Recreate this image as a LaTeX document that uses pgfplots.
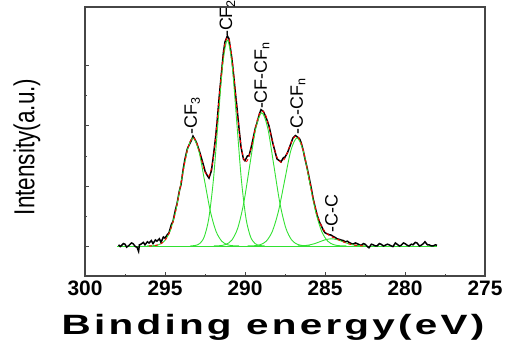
\documentclass[border=0pt]{standalone}
\usepackage{pgfplots}
\pgfplotsset{compat=1.18}
\usepackage{graphicx}
\usepackage{fontspec}
\setmainfont{Liberation Sans}
\definecolor{fitgreen}{RGB}{50,225,50}
\definecolor{frame}{RGB}{70,70,70}
\begin{document}
\begin{tikzpicture}
\useasboundingbox (-85bp,-64bp) rectangle (421bp,276bp);
\begin{axis}[
  scale only axis, width=400bp, height=269bp,
  x dir=reverse, xmin=275, xmax=300, ymin=-0.5, ymax=3.98,
  xtick={275,280,285,290,295,300}, minor x tick num=1,
  ytick={0,1,2,3}, minor y tick num=1, yticklabels={},
  tick align=inside, tick pos=left,
  major tick length=4bp, minor tick length=2.5bp,
  axis line style={frame, line width=1.1pt},
  every tick/.style={frame, line width=0.8pt},
  /pgf/number format/assume math mode=true,
  /pgf/number format/1000 sep={},
  xticklabel style={font=\fontsize{21}{21}\selectfont\bfseries, inner sep=1bp, yshift=-4bp},
  xlabel={\scalebox{1.45}[1]{\addfontfeatures{LetterSpace=8}Binding energy(eV)}},
  xlabel style={font=\fontsize{28}{28}\selectfont\bfseries, at={(axis description cs:0.47,-0.219)}, anchor=base},
  ylabel={\scalebox{0.78}[1]{Intensity(a.u.)}},
  ylabel style={font=\fontsize{29}{29}\selectfont, at={(axis description cs:-0.145,0.48)}, anchor=center},
  clip=false,
]
% baseline
\addplot[fitgreen, line width=0.9pt] coordinates {(298,0) (278,0)};
% experimental data
\addplot[black, line width=1.5pt] coordinates {
(297.9,0.02) (297.8,-0.01) (297.75,0.00) (297.6,0.04) (297.5,0.03) (297.4,-0.02) (297.25,0.01) (297.1,0.05)
(297.0,0.04) (296.85,-0.01) (296.75,-0.02) (296.65,-0.09) (296.6,0.02) (296.5,0.03) (296.35,0.06) (296.25,0.02)
(296.1,0.07) (296.0,0.05) (295.85,0.09) (295.75,0.04) (295.6,0.10) (295.5,0.08) (295.35,0.12) (295.25,0.06)
(295.1,0.15) (295.0,0.13) (294.85,0.19) (294.75,0.22) (294.6,0.36) (294.5,0.41) (294.35,0.60) (294.25,0.70)
(294.1,0.92) (294.0,1.02) (293.85,1.30) (293.75,1.45) (293.6,1.62) (293.5,1.68) (293.35,1.76) (293.25,1.83)
(293.1,1.76) (293.0,1.70) (292.85,1.58) (292.75,1.49) (292.6,1.35) (292.5,1.25) (292.35,1.17) (292.25,1.13)
(292.1,1.25) (292.0,1.45) (291.85,1.78) (291.75,2.05) (291.6,2.52) (291.5,2.80) (291.35,3.22) (291.25,3.40)
(291.1,3.50) (291.0,3.45) (290.85,3.18) (290.75,2.95) (290.6,2.55) (290.5,2.30) (290.35,1.90) (290.25,1.65)
(290.1,1.45) (290.0,1.42) (289.85,1.50) (289.75,1.50) (289.6,1.66) (289.5,1.78) (289.35,1.97) (289.25,2.05)
(289.1,2.20) (289.0,2.27) (288.85,2.24) (288.75,2.18) (288.6,2.08) (288.5,2.00) (288.35,1.82) (288.25,1.70)
(288.1,1.55) (288.0,1.45) (287.85,1.42) (287.75,1.40) (287.6,1.47) (287.5,1.48) (287.35,1.55) (287.25,1.62)
(287.1,1.73) (287.0,1.80) (286.85,1.84) (286.75,1.82) (286.6,1.79) (286.5,1.73) (286.35,1.58) (286.25,1.45)
(286.1,1.28) (286.0,1.15) (285.85,0.95) (285.75,0.80) (285.6,0.63) (285.5,0.52) (285.35,0.40) (285.25,0.35)
(285.1,0.26) (285.0,0.22) (284.85,0.20) (284.75,0.19) (284.6,0.18) (284.5,0.16) (284.35,0.14) (284.25,0.12)
(284.1,0.11) (284.0,0.10) (283.85,0.09) (283.75,0.07) (283.6,0.08) (283.5,0.06) (283.35,0.04) (283.25,0.03)
(283.1,0.05) (283.0,0.04) (282.85,0.02) (282.75,0.01) (282.6,0.04) (282.5,0.03) (282.35,-0.01) (282.25,-0.03)
(282.1,0.03) (282.0,0.02) (281.85,0.00) (281.75,0.00) (281.6,0.04) (281.5,0.03) (281.35,0.00) (281.25,0.01)
(281.1,0.03) (281.0,0.02) (280.85,0.00) (280.75,-0.01) (280.6,0.05) (280.5,0.03) (280.35,0.00) (280.25,0.01)
(280.1,0.05) (280.0,0.04) (279.85,0.01) (279.75,0.00) (279.6,0.03) (279.5,0.02) (279.35,0.06) (279.25,0.05)
(279.1,0.00) (279.0,0.01) (278.85,0.04) (278.75,0.07) (278.6,0.02) (278.5,0.02) (278.35,0.00) (278.25,0.00)
(278.1,0.02) (278.0,0.01)
};
% fitted components
\addplot[fitgreen, line width=0.9pt, smooth] coordinates {
(290.37,0.0005) (290.73,0.004) (291.09,0.020) (291.45,0.079) (291.81,0.244) (292.17,0.584) (292.53,1.092) (292.89,1.589)
(293.25,1.8) (293.61,1.589) (293.97,1.092) (294.33,0.584) (294.69,0.244) (295.05,0.079) (295.41,0.020) (295.77,0.004) (296.13,0.0005)};
\addplot[fitgreen, line width=0.9pt, smooth] coordinates {
(288.78,0.001) (289.07,0.008) (289.36,0.038) (289.65,0.151) (289.94,0.464) (290.23,1.114) (290.52,2.080) (290.81,3.027)
(291.1,3.43) (291.39,3.027) (291.68,2.080) (291.97,1.114) (292.26,0.464) (292.55,0.151) (292.84,0.038) (293.13,0.008) (293.42,0.001)};
\addplot[fitgreen, line width=0.9pt, smooth] coordinates {
(285.95,0.001) (286.325,0.005) (286.70,0.025) (287.075,0.097) (287.45,0.300) (287.825,0.721) (288.20,1.346) (288.575,1.959)
(288.95,2.22) (289.325,1.959) (289.70,1.346) (290.075,0.721) (290.45,0.300) (290.825,0.097) (291.20,0.025) (291.575,0.005) (291.95,0.001)};
\addplot[fitgreen, line width=0.9pt, smooth] coordinates {
(283.67,0.0005) (284.055,0.004) (284.44,0.020) (284.825,0.079) (285.21,0.244) (285.595,0.584) (285.98,1.092) (286.365,1.589)
(286.75,1.8) (287.135,1.589) (287.52,1.092) (287.905,0.584) (288.29,0.244) (288.675,0.079) (289.06,0.020) (289.445,0.004) (289.83,0.0005)};
\addplot[fitgreen, line width=0.9pt, smooth] coordinates {
(282.5,0.001) (282.85,0.005) (283.2,0.016) (283.55,0.039) (283.9,0.073) (284.25,0.106) (284.6,0.12) (284.95,0.106)
(285.3,0.073) (285.65,0.039) (286.0,0.016) (286.35,0.005) (286.7,0.001)};
% envelope
\addplot[red, line width=1.0pt, dashed, smooth] coordinates {
(296.0,0.001) (295.75,0.004) (295.5,0.014) (295.25,0.038) (295.0,0.094) (294.75,0.206) (294.5,0.399) (294.25,0.686)
(294.0,1.046) (293.75,1.414) (293.5,1.696) (293.25,1.804) (293.0,1.711) (292.75,1.474) (292.5,1.232) (292.25,1.166)
(292.0,1.429) (291.75,2.039) (291.5,2.805) (291.25,3.375) (291.0,3.446) (290.75,2.988) (290.5,2.272) (290.25,1.666)
(290.0,1.401) (289.75,1.486) (289.5,1.776) (289.25,2.079) (289.0,2.245) (288.75,2.205) (288.5,1.990) (288.25,1.706)
(288.0,1.477) (287.75,1.392) (287.5,1.463) (287.25,1.628) (287.0,1.784) (286.75,1.831) (286.5,1.722) (286.25,1.468)
(286.0,1.137) (285.75,0.806) (285.5,0.535) (285.25,0.348) (285.0,0.238) (284.75,0.179) (284.5,0.144) (284.25,0.115)
(284.0,0.086) (283.75,0.058) (283.5,0.035) (283.25,0.019) (283.0,0.009) (282.75,0.004) (282.5,0.001)};
% peak labels
\begin{scope}[every node/.style={rotate=90, anchor=west, inner sep=0.5bp, font=\fontsize{18}{18}\selectfont}]
\node at (axis cs:293.3,1.84) {-CF\textsubscript{3}};
\node at (axis cs:291.1,3.47) {-CF\textsubscript{2}};
\node at (axis cs:288.95,2.27) {-CF-CF\textsubscript{n}};
\node at (axis cs:286.7,1.85) {-C-CF\textsubscript{n}};
\node at (axis cs:284.6,0.22) {-C-C};
\end{scope}
\end{axis}
\end{tikzpicture}
\end{document}
